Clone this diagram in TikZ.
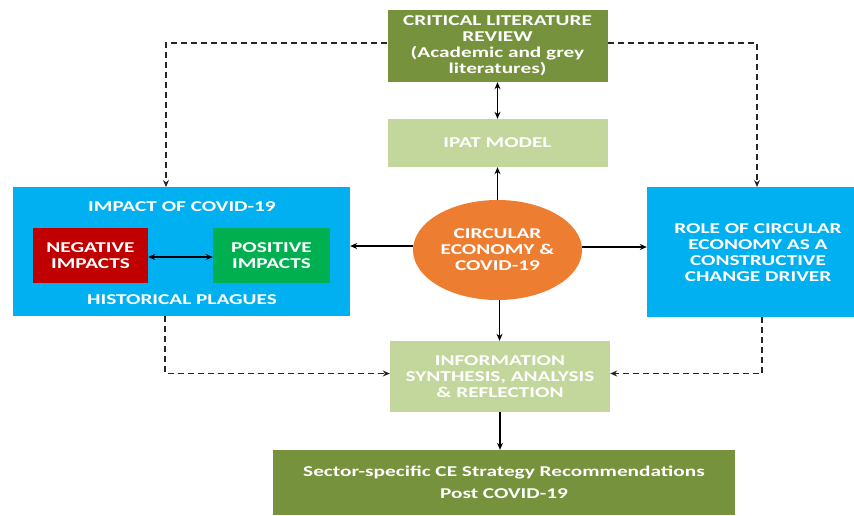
\documentclass[tikz,border=0pt]{standalone}
\usepackage{fontspec}
\setmainfont[FakeStretch=1.42]{Carlito}
\usetikzlibrary{arrows.meta,shapes.geometric}
\definecolor{olive}{HTML}{76923C}
\definecolor{lightolive}{HTML}{C3D69B}
\definecolor{skyblue}{HTML}{00B0F0}
\definecolor{darkred}{HTML}{C00000}
\definecolor{brightgreen}{HTML}{00B050}
\definecolor{orange}{HTML}{ED7D31}
\tikzset{
  box/.style={draw=none, inner sep=0pt, align=center, text=white,
    font=\fontsize{15}{16}\selectfont\bfseries},
  lbl/.style={inner sep=0pt, align=center, text=white,
    font=\fontsize{15}{16}\selectfont\bfseries},
  conn/.style={line width=1.1pt, -{Stealth[length=7pt,width=6pt]}},
  dconn/.style={conn, dash pattern=on 6pt off 4pt, draw=black!85},
  bconn/.style={line width=1.1pt, {Stealth[length=7pt,width=6pt]}-{Stealth[length=7pt,width=6pt]}}
}
\begin{document}
\begin{tikzpicture}[x=1pt,y=-1pt]
\useasboundingbox[fill=white] (0,0) rectangle (854,515);
% nodes
\node[box, fill=olive, minimum width=220pt, minimum height=72pt] (clr) at (497.5,46)
  {CRITICAL LITERATURE\\REVIEW\\(Academic and grey\\literatures)};
\node[box, fill=lightolive, minimum width=220pt, minimum height=48pt] (ipat) at (497.5,143) {IPAT MODEL};
\node[box, fill=skyblue, minimum width=337pt, minimum height=129pt] (lb) at (181.5,251.5) {};
\node[lbl] (lbtitle) at (182,207) {IMPACT OF COVID-19};
\node[lbl] (lbbottom) at (182,300) {HISTORICAL PLAGUES};
\node[box, fill=darkred, minimum width=115pt, minimum height=55pt] (neg) at (90.5,255.5) {NEGATIVE\\IMPACTS};
\node[box, fill=brightgreen, minimum width=117pt, minimum height=55pt] (pos) at (271.5,255.5) {POSITIVE\\IMPACTS};
\node[ellipse, fill=orange, minimum width=169pt, minimum height=100pt, inner sep=0pt,
  align=center, text=white, font=\fontsize{15}{16}\selectfont\bfseries] (circ) at (497.5,250)
  {CIRCULAR\\ECONOMY \&\\COVID-19};
\node[box, fill=skyblue, minimum width=207pt, minimum height=130pt] (rb) at (750.5,252) {};
\node[lbl] (rbtext) at (758,253) {ROLE OF CIRCULAR\\ECONOMY AS A\\CONSTRUCTIVE\\CHANGE DRIVER};
\node[box, fill=lightolive, minimum width=220pt, minimum height=71pt] (info) at (500,376.5)
  {INFORMATION\\SYNTHESIS, ANALYSIS\\\& REFLECTION};
\node[box, fill=olive, minimum width=462pt, minimum height=65pt,
  font=\fontsize{15}{22}\selectfont\bfseries] (rec) at (504,482.5)
  {Sector-specific CE Strategy Recommendations\\Post COVID-19};
% coordinates for dashed routes
\coordinate (ltop) at (166,187);
\coordinate (rtop) at (757,187);
\coordinate (lbot) at (165,316);
\coordinate (rbot) at (762,317);
% connectors
\draw[bconn] (clr.south) -- (ipat.north);
\draw[conn] (circ.north) -- (ipat.south);
\draw[conn] ([yshift=4pt]circ.west) -- ([yshift=4pt]circ.west -| lb.east);
\draw[conn] ([yshift=3pt]circ.east) -- ([yshift=3pt]circ.east -| rb.west);
\draw[bconn] ([yshift=-1.5pt]neg.east) -- ([yshift=-1.5pt]pos.west);
\draw[conn] ([xshift=2pt]circ.south) -- ([xshift=2pt]circ.south |- info.north);
\draw[conn] (info.south) -- (info.south |- rec.north);
\draw[dconn] ([yshift=3pt]clr.west) -| (ltop);
\draw[dconn] ([yshift=3pt]clr.east) -| (rtop);
\draw[dconn] (lbot) |- ([yshift=3pt]info.west);
\draw[dconn] (rbot) |- ([yshift=3pt]info.east);
\end{tikzpicture}
\end{document}
